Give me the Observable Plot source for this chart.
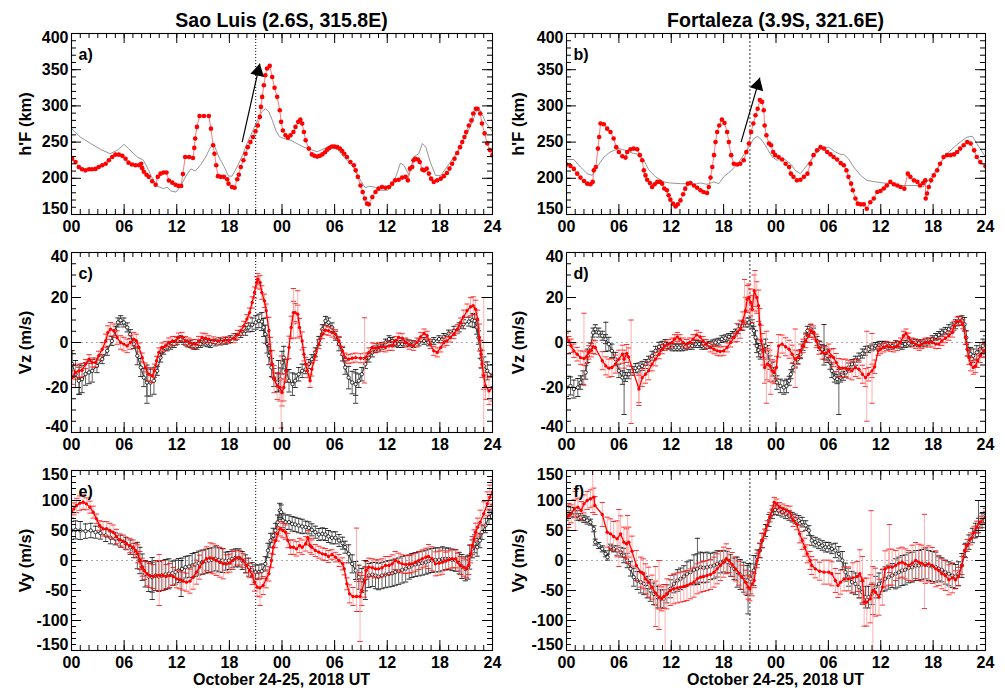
<!DOCTYPE html>
<html><head><meta charset="utf-8">
<script src="https://cdn.jsdelivr.net/npm/d3@7"></script>
<script src="https://cdn.jsdelivr.net/npm/@observablehq/plot@0.6"></script>
<style>
body{margin:0;background:#fff;}
#wrap{position:relative;width:1005px;height:691px;font-family:"Liberation Sans",Arial,Helvetica,sans-serif;font-weight:bold;color:#000;overflow:hidden}
.ttl{position:absolute;font-size:19.5px;line-height:24px;text-align:center;width:400px;white-space:nowrap}
.xl{position:absolute;font-size:16px;line-height:20px;text-align:center;width:400px;white-space:nowrap}
.pn{position:absolute}
</style></head><body><div id="wrap"></div>
<script>
// ---------- axis ticks / labels ----------
const xMajor = [0,6,12,18,24,30,36,42,48];
const xTickLabels = ["00","06","12","18","00","06","12","18","24"];
const hfMajor = [150,200,250,300,350,400];
const vzMajor = [-40,-20,0,20,40];
const vyMajor = [-150,-100,-50,0,50,100,150];
const titles = ["Sao Luis (2.6S, 315.8E)", "Fortaleza (3.9S, 321.6E)"];
const xTitle = "October 24-25, 2018 UT";
const yTitles = ["h'F (km)", "Vz (m/s)", "Vy (m/s)"];
const letters = ["a)","b)","c)","d)","e)","f)"];
const eventT = 21;

// ---------- panel a: Sao Luis h'F ----------
const aRed = [[0.08,227],[0.46,222.5],[0.84,215.6],[1.2,212.4],[1.6,211],[2.0,212.4],[2.35,212.4],[2.74,213],[3.1,215.6],[3.5,218],[3.9,220],[4.26,225],[4.64,229.5],[5.0,232.7],[5.4,232.7],[5.8,231],[6.16,227],[6.5,221.6],[6.9,219],[7.3,218],[7.7,218],[7.94,220],[8.06,214],[8.25,209],[8.55,205],[8.8,202],[9.2,196],[9.6,191],[9.84,202],[10.15,206.4],[10.5,208],[10.83,208],[11.1,197],[11.5,194],[11.86,191],[12.2,189.5],[12.5,189.5],[12.7,206],[12.96,229.5],[13.4,229.5],[13.85,228],[14.0,242],[14.1,255],[14.3,271],[14.6,286],[15.1,286],[15.66,286],[15.9,268.6],[16.15,245.6],[16.3,234],[16.5,218],[16.7,203],[17.0,202],[17.37,202],[17.75,198.6],[17.9,192.6],[18.3,188],[18.6,187],[18.9,198.6],[19.08,205],[19.3,215.6],[19.6,225],[19.84,234],[20.1,243],[20.4,250],[20.7,257],[20.98,265],[21.24,273],[21.47,284.8],[21.6,298.6],[21.74,312.4],[21.93,328.6],[22.1,342.4],[22.3,351.6],[22.6,355.3],[22.88,340],[23.15,325],[23.45,312.5],[23.75,294],[23.9,278],[24.1,266],[24.4,259.5],[24.67,256],[24.97,259.5],[25.3,264],[25.54,271],[25.85,278],[26.1,281],[26.3,275.6],[26.5,264],[26.7,252.5],[27.06,241],[27.4,233],[27.7,231],[28.0,230],[28.3,231],[28.6,233],[28.9,236],[29.15,239.6],[29.4,242],[29.7,244],[30.0,244],[30.3,243],[30.6,241],[30.86,237.8],[31.1,234],[31.4,229.5],[31.8,222.5],[32.2,218],[32.4,211],[32.65,202],[32.95,190],[33.2,181],[33.45,172],[33.7,165],[33.9,164],[34.3,174],[34.66,181],[35.0,185.7],[35.4,188],[35.8,187],[36.2,188],[36.56,192.6],[36.9,197.2],[37.3,198],[37.7,201],[38.1,202],[38.35,197.2],[38.58,213.3],[38.85,215.6],[39.0,225],[39.2,227],[39.5,226],[39.7,222.5],[40.0,212],[40.2,211],[40.5,213.4],[40.75,206.5],[41.0,199.5],[41.3,195],[41.7,197.2],[42.1,199.5],[42.45,203],[42.8,207.3],[43.1,213.4],[43.4,220],[43.67,227],[43.98,235],[44.3,243],[44.55,250],[44.8,257],[45.0,264],[45.3,273],[45.6,280],[45.8,289.4],[46.1,296],[46.3,296],[46.6,289.4],[46.8,275.6],[47.1,262],[47.4,248],[47.7,239],[48,232]];
const aQuiet = [[0,268.6],[1.0,257],[2.2,248],[3.3,240],[4.4,234],[5.2,238.6],[6.0,247],[6.5,241],[7.5,229.5],[8.2,225],[8.8,211],[9.6,190],[10.0,188],[10.5,185.7],[10.9,188],[11.3,182.6],[11.9,181],[12.4,188],[13.0,202],[13.6,213],[14.1,210],[14.7,218],[15.3,229.5],[15.85,243],[16.2,248],[16.8,229.5],[17.4,216],[17.9,203],[18.3,203],[18.9,216],[19.5,232],[20.0,248],[20.6,264],[21.2,280],[21.7,292],[22.1,296],[22.5,292],[22.9,280],[23.3,266],[23.6,259.5],[23.8,257],[24.2,255],[25.0,252.5],[25.7,248],[26.5,243],[27.25,240],[28.0,236.6],[28.8,241],[29.5,243],[30.3,240],[31.05,229.5],[31.8,220],[32.4,211],[32.95,197],[33.5,187],[33.9,189],[34.5,188],[35.2,183.4],[36.0,183.4],[36.6,190],[37.1,206.4],[37.5,221],[37.9,218],[38.5,204],[39.0,229.5],[39.6,234],[40.0,248],[40.4,243],[40.9,222.5],[41.5,204],[42.1,204],[42.8,215.6],[43.6,229.5],[44.4,245.6],[45.1,262],[45.7,278],[46.2,294],[46.6,294],[47.2,278],[48,264]];
const aArrow = [{t1:19.46,h1:250,t2:21.47,h2:358.5}];

// ---------- panel b: Fortaleza h'F ----------
const bRed = [[0,219],[0.46,217],[0.84,213],[1.22,206.4],[1.6,201],[2.0,196.3],[2.37,192.6],[2.75,191.7],[3.0,195],[3.13,211],[3.36,215.6],[3.6,241],[3.74,257],[3.9,275.6],[4.28,274.6],[4.66,268.6],[5.04,264],[5.4,255],[5.7,243],[6.0,236.4],[6.4,230.4],[6.76,228.6],[6.95,236.4],[7.33,240],[7.7,241],[8.1,240],[8.4,232],[8.67,225],[8.86,211],[9.05,204],[9.24,198],[9.55,193.5],[9.8,188],[10.1,191.7],[10.4,195],[10.7,195],[10.96,192.6],[11.2,186],[11.5,183.4],[11.7,176.5],[11.9,170.5],[12.2,165],[12.5,161],[12.75,164],[13.06,169.5],[13.36,178],[13.6,185.7],[13.9,192.6],[14.2,193.5],[14.6,190],[14.97,187],[15.35,183.4],[15.7,181],[16.1,179.7],[16.3,188],[16.5,201],[16.7,215.6],[16.9,232],[17.07,250],[17.26,264],[17.5,273],[17.8,281],[18.1,276.4],[18.4,264],[18.6,250],[18.86,232],[19.17,220],[19.55,219],[19.9,220],[20.3,225],[20.6,236.4],[20.9,248],[21.15,264],[21.4,275.6],[21.65,287],[21.9,296],[22.15,308],[22.4,305.5],[22.6,294],[22.7,273],[22.9,259.4],[23.2,248],[23.44,245.6],[23.67,236.4],[23.9,232],[24.3,229.5],[24.7,226],[25.1,220],[25.5,215.6],[25.7,206.4],[26.0,202],[26.4,197.2],[26.8,198],[27.2,202],[27.6,206.4],[27.95,220],[28.3,232],[28.7,238.6],[29.1,243],[29.5,241],[29.86,236.4],[30.24,233],[30.6,229.5],[31.0,226],[31.4,221],[31.77,218],[32.07,211],[32.3,202],[32.6,192.6],[32.8,183.4],[33.1,172],[33.37,165],[33.7,164],[34.06,164],[34.4,158],[34.8,167],[35.2,172],[35.6,181],[35.97,182.5],[36.35,186],[36.7,190],[37.1,195],[37.5,191.7],[37.9,190],[38.26,188],[38.7,185.7],[39.1,206.4],[39.4,202],[39.8,197.2],[40.2,195],[40.5,190],[40.85,193.5],[41.1,197.2],[41.15,172],[41.3,179],[41.5,188],[41.77,197.2],[42.08,204],[42.46,211],[42.8,220],[43.2,229.5],[43.6,232],[44.0,232],[44.4,233],[44.75,236.4],[45.1,241],[45.5,245.6],[45.9,250],[46.3,248],[46.7,238.6],[47.0,229.5],[47.4,222.5],[48,216.6]];
const bQuiet = [[0,225.8],[0.84,226],[1.6,215.6],[2.37,206.4],[2.94,204],[3.5,215.6],[4.3,229.5],[5.0,236.4],[6.0,241],[6.76,238.6],[7.5,235],[8.3,233],[8.86,225],[9.4,212],[10.2,202],[11.15,195],[11.9,193.5],[13.06,192.6],[13.8,192.6],[14.6,191.7],[15.35,193.5],[16.1,191.7],[16.9,195],[17.45,192.6],[18.0,202],[18.8,210],[19.55,219],[20.3,232],[20.9,243],[21.46,255],[21.9,258],[22.4,252.5],[23.0,241],[23.56,229.5],[24.1,225],[24.9,227],[25.66,220],[26.2,211],[26.8,206.4],[27.4,215.6],[28.1,227],[28.7,236.4],[29.3,241],[30.05,243],[30.8,236.4],[31.4,233],[31.77,233],[32.3,227],[32.9,215.6],[33.7,204],[34.4,197.2],[35.4,195],[36.35,193.5],[37.3,192.6],[38.26,190],[39.2,190],[40.2,190],[40.85,188],[41.3,195],[42.1,206.4],[42.8,220],[43.6,234],[44.4,243],[45.1,250],[45.9,257],[46.5,258],[47.0,248],[48,229.5]];
const bArrow = [{t1:20.0,h1:250,t2:22.15,h2:339}];

// ---------- panel c: Sao Luis Vz ----------
const cBlack = [[0.08,-9.6],[0.46,-14],[0.84,-17],[1.2,-16.3],[1.6,-14],[2.0,-13.3],[2.36,-12.6],[2.9,-10.4],[3.5,-7.4],[4.07,-3.7],[4.6,0.7],[5.0,5.2],[5.3,8.9],[5.6,9.9],[5.97,8.9],[6.35,6.7],[6.7,3.7],[7.1,-0.7],[7.5,-5.9],[7.9,-11.1],[8.25,-15.6],[8.6,-17.8],[9.0,-17.8],[9.4,-17],[9.77,-12.6],[10.15,-6.7],[10.5,-3.7],[10.9,-2.2],[11.3,-1.5],[11.7,-0.7],[12.05,0.7],[12.4,1.5],[12.8,0.7],[13.2,-0.4],[13.6,-0.7],[13.95,-1.5],[14.3,-1.5],[14.7,-0.7],[15.1,0],[15.5,-0.4],[15.85,-0.7],[16.4,0],[17.0,0.4],[17.56,0.7],[18.1,1.5],[18.7,2.5],[19.3,3.7],[19.84,5.2],[20.2,6.7],[20.6,7.9],[21.0,8.9],[21.36,9.6],[21.7,9.3],[21.9,6.7],[22.1,3.7],[22.3,-0.7],[22.5,-5.9],[22.8,-11.1],[23.07,-15.6],[23.45,-17.8],[23.8,-16.3],[24.0,-8.9],[24.2,-6.7],[24.5,-12.6],[24.8,-17],[25.2,-18.5],[25.5,-17],[25.9,-14.1],[26.3,-12.6],[26.7,-11.9],[27.06,-9.6],[27.4,-7.4],[27.8,-4.4],[28.2,0.7],[28.6,5.9],[28.96,9.6],[29.3,8.9],[29.7,6.7],[30.1,3.0],[30.5,-0.7],[30.9,-5.2],[31.2,-11.1],[31.6,-15.6],[32.0,-17.8],[32.4,-18.5],[32.76,-17],[33.1,-14.1],[33.5,-9.6],[33.9,-6.7],[34.3,-4.4],[34.66,-3.0],[35.0,-2.2],[35.4,-1.5],[35.8,0],[36.2,1.5],[36.56,0.7],[36.9,-0.4],[37.3,-0.7],[37.7,-0.7],[38.1,0],[38.5,-0.4],[39.0,-0.7],[39.6,0],[40.2,0.7],[40.7,0],[41.3,0.7],[41.9,1.5],[42.45,2.5],[43.0,4.0],[43.6,5.2],[44.2,6.7],[44.7,8.1],[45.3,9.3],[45.7,9.9],[45.96,9.6],[46.2,6.7],[46.4,2.2],[46.6,-3.0],[46.75,-7.4],[47.0,-10.4],[47.4,-12.6],[48,-14.8]];
const cBlackErr = [6,6,5,3,2,2,2,2,4,6, 2,1.5,1.5,1.5,1.5,1.5,1.5,1.5,1.5,1.5, 2,3,4,4,5,5,3,2,2,2, 2,3,5,3,2,1.5,1.5,1.5,1.5,1.5, 1.5,1.5,1.5,1.5,2,2,3,4,5];
const cBlackSpikes = [[0.9,-23,-10],[8.6,-27,-10],[23.6,-22,-8],[32.4,-27,-12]];
const cRed = [[0.08,-15.6],[0.46,-13.3],[0.84,-12.6],[1.2,-12.3],[1.6,-9.6],[2.0,-7.4],[2.36,-8.9],[2.74,-8.9],[3.1,-5.9],[3.5,-3.0],[3.9,0.7],[4.14,4.4],[4.45,5.9],[4.83,5.2],[5.2,2.2],[5.6,0],[5.97,-0.7],[6.35,-1.5],[6.7,0],[7.1,1.5],[7.4,0.7],[7.7,-2.2],[8.06,-6.7],[8.4,-11.1],[8.8,-14.1],[9.2,-14.8],[9.46,-12.6],[9.7,-8.1],[9.96,-4.4],[10.3,-2.2],[10.7,-1.5],[11.1,0],[11.5,0.7],[11.86,0.7],[12.2,2.2],[12.6,2.5],[13.0,0.7],[13.4,0],[13.76,-0.7],[14.1,-0.7],[14.5,0.7],[14.9,2.2],[15.3,1.9],[15.66,1.5],[16.2,1.0],[16.8,0.7],[17.4,1.0],[17.9,1.0],[18.5,1.9],[18.9,3.4],[19.3,5.2],[19.65,7.4],[20.0,10.4],[20.3,13.3],[20.6,17.8],[20.87,22.2],[21.1,26.7],[21.25,28.1],[21.5,26.7],[21.7,22.2],[22.0,18.5],[22.2,14.1],[22.5,5.2],[22.7,-3.7],[22.9,-9.6],[23.1,-16.3],[23.45,-19.3],[23.75,-20],[24.0,-22.2],[24.2,-20],[24.5,-12.6],[24.8,-2.2],[25.05,6.7],[25.3,13.3],[25.5,13.3],[25.8,12.6],[26.0,6.7],[26.3,0.7],[26.5,-5.2],[26.7,-9.6],[26.9,-12.6],[27.2,-17],[27.4,-11.9],[27.8,-5.9],[28.2,-0.7],[28.6,3.7],[28.96,5.5],[29.3,5.2],[29.7,4.4],[30.1,3.7],[30.5,0.7],[30.9,-3.7],[31.2,-6.7],[31.6,-7.4],[32.0,-7.0],[32.4,-6.7],[32.95,-7.0],[33.5,-6.7],[33.9,-4.4],[34.3,-2.2],[34.66,-2.5],[35.0,-2.2],[35.4,-1.9],[35.8,-2.2],[36.2,-1.5],[36.56,-1.5],[36.9,0.7],[37.3,2.2],[37.7,1.9],[38.1,0],[38.5,-1.0],[39.0,-1.5],[39.4,0],[39.8,2.5],[40.2,4.0],[40.55,3.0],[40.9,-0.7],[41.3,-3.7],[41.7,-4.4],[42.1,-2.2],[42.45,0],[42.8,0.7],[43.2,2.2],[43.6,3.7],[44.0,5.9],[44.35,8.9],[44.7,11.4],[45.1,14.1],[45.5,15.9],[45.8,16.3],[46.07,14.8],[46.3,10.4],[46.5,2.2],[46.7,-5.2],[46.8,-9.6],[47.0,-14.8],[47.2,-19.3],[47.6,-21.5],[48,-20]];
const cRedErr = [3,3,2,2,3,3,3,3,2,3, 2,2,2,2,2,2,1.5,1.5,1.5,2, 2,2.5,3,6,6,5,4,3,2,2, 2,2,2,2,2,2,2,2,2,2, 2,2,2,2,2,3,4,6,6];
const cRedSpikes = [[23.9,-38,-6],[25.3,2,24],[25.8,2,23],[33.4,-18,11],[47.0,-42,20]];

// ---------- panel d: Fortaleza Vz ----------
const dBlack = [[0,-20],[0.46,-19.3],[0.84,-20.7],[1.3,-20],[1.6,-17.8],[1.9,-15.6],[2.2,-13.3],[2.44,-5.9],[2.75,-2.2],[3.05,4.4],[3.3,5.9],[3.7,4.4],[4.1,3.0],[4.47,1.5],[4.85,-0.7],[5.2,-3.7],[5.6,-7.4],[6.0,-12.6],[6.4,-15.6],[6.76,-15.3],[7.14,-14.1],[7.5,-12.6],[7.9,-11.4],[8.3,-11.1],[8.67,-10.4],[9.05,-9.6],[9.4,-8.1],[9.8,-5.9],[10.2,-3.7],[10.6,-1.9],[10.96,-1.5],[11.3,-0.7],[11.7,-1.5],[12.1,-2.2],[12.5,-2.2],[12.87,-2.2],[13.25,-2.2],[13.6,-1.9],[14.0,-1.5],[14.4,-1.5],[14.8,-0.7],[15.2,-0.7],[15.5,-1.5],[15.9,-1.5],[16.3,-1.0],[16.7,-0.4],[17.07,0],[17.45,0.4],[17.8,1.5],[18.2,1.9],[18.6,2.5],[19.0,3.4],[19.36,4.4],[19.7,5.9],[20.1,7.4],[20.5,8.9],[20.9,8.9],[21.27,8.1],[21.46,5.2],[21.65,2.2],[21.8,-1.5],[22.0,-3.4],[22.2,-4.4],[22.5,-3.7],[22.8,-1.5],[23.0,-4.4],[23.3,-8.9],[23.56,-11.9],[23.8,-14.1],[24.1,-17.8],[24.5,-19.3],[24.9,-20],[25.2,-19.3],[25.5,-17],[25.7,-14.1],[25.96,-11.1],[26.2,-8.9],[26.5,-7.4],[26.8,-5.2],[27.1,-1.5],[27.4,2.2],[27.6,5.2],[27.95,5.9],[28.3,4.4],[28.7,0.7],[29.0,-1.5],[29.3,-3.0],[29.55,-4.4],[29.86,-5.9],[30.2,-8.9],[30.4,-12.6],[30.7,-15.6],[31.0,-16.3],[31.4,-15.6],[31.7,-14.8],[32.0,-13.3],[32.3,-11.1],[32.7,-9.6],[33.1,-8.1],[33.5,-6.7],[33.9,-4.9],[34.25,-3.7],[34.6,-3.0],[35.0,-2.2],[35.4,-1.5],[35.8,-1.0],[36.2,-1.0],[36.5,-1.0],[36.9,-1.5],[37.3,-1.5],[37.7,-0.7],[38.07,-1.0],[38.45,-1.5],[38.8,-0.7],[39.2,-0.4],[39.6,0],[40.0,0],[40.36,-0.4],[40.7,-0.4],[41.1,0],[41.5,0.4],[41.9,1.5],[42.3,2.5],[42.65,3.4],[43.0,4.4],[43.4,5.2],[43.8,5.9],[44.2,6.7],[44.56,8.1],[44.9,9.6],[45.3,9.9],[45.6,8.1],[45.8,2.2],[46.0,-3.0],[46.3,-5.2],[46.6,-5.9],[47.0,-4.4],[47.35,-3.0],[47.7,-1.5],[48,0]];
const dBlackErr = [4,4,3,2,2,3,3,2,2,2, 2,2,1.5,1.5,1.5,1.5,1.5,1.5,1.5,1.5, 2,2,3,3,3,3,2,2,2,2, 3,2,2,2,2,1.5,1.5,1.5,1.5,1.5, 1.5,1.5,1.5,1.5,2,2,3,3,3];
const dBlackSpikes = [[4.5,-4,9],[6.6,-32,-5],[29.5,-10,8],[31.2,-32,-12]];
const dRed = [[0,2.2],[0.27,0.7],[0.53,-1.5],[0.84,-3.7],[1.22,-5.2],[1.6,-6.7],[2.0,-7.1],[2.3,-6.4],[2.56,-4.4],[2.83,-3.4],[3.05,-1.9],[3.3,-2.2],[4.1,-8.1],[4.5,-10.4],[4.85,-11.4],[5.2,-11.1],[5.6,-9.6],[6.0,-7.4],[6.4,-5.2],[6.6,-7.4],[6.9,-4.9],[7.1,-6.4],[8.3,-20.7],[8.67,-15.6],[9.05,-14.1],[9.4,-12.6],[9.8,-9.6],[10.2,-7.4],[10.6,-5.2],[10.96,-3.0],[11.3,-1.5],[11.7,-0.7],[12.1,0],[12.37,1.5],[12.7,2.5],[13.0,1.5],[13.36,0],[13.75,-0.7],[14.1,0],[14.5,1.5],[14.9,3.4],[15.3,2.5],[15.65,0.7],[16.0,-0.7],[16.5,-2.2],[16.9,-3.0],[17.26,-3.7],[17.6,-4.0],[18.0,-3.7],[18.4,-2.2],[18.8,0],[19.2,2.2],[19.55,4.4],[19.9,5.9],[20.2,9.6],[20.5,14.1],[20.7,19.3],[20.9,20],[21.1,17.8],[21.27,14.8],[21.5,23],[21.8,20],[22.0,16.3],[22.15,8.1],[22.3,0.7],[22.5,-3.0],[22.7,-11.1],[23.0,-9.6],[23.3,-10.4],[23.56,-12.6],[23.8,-13.3],[24.05,-11.1],[24.3,-1.5],[24.7,-0.7],[25.1,-1.9],[25.5,-3.0],[25.85,-5.2],[26.2,-7.4],[26.5,-6.7],[26.8,-3.7],[27.1,-1.5],[27.4,0.7],[27.76,3.0],[28.0,5.2],[28.3,4.4],[28.6,0.7],[28.9,-2.2],[29.3,-4.4],[29.7,-4.9],[30.05,-3.7],[30.3,-5.9],[30.6,-6.7],[30.9,-8.9],[31.2,-11.1],[31.6,-11.4],[31.96,-11.4],[32.3,-11.9],[32.7,-12.6],[33.1,-11.1],[33.5,-11.9],[33.9,-14.1],[34.25,-15.6],[34.6,-14.1],[35.0,-12.6],[35.3,-10.8],[35.7,-3.7],[35.97,-3.0],[36.35,-2.2],[36.7,-1.5],[37.1,-1.9],[37.5,-2.2],[37.9,-1.5],[38.26,0],[38.6,3.0],[38.9,4.0],[39.2,2.2],[39.6,0],[40.0,-0.7],[40.4,-1.5],[40.7,-0.7],[41.1,0],[41.5,0],[41.9,0],[42.3,-0.7],[42.65,-0.7],[43.0,0.7],[43.4,1.9],[43.8,3.0],[44.2,4.4],[44.4,7.4],[44.75,9.3],[45.1,9.6],[45.4,8.1],[45.7,2.2],[45.9,-3.0],[46.1,-6.7],[46.3,-9.6],[46.6,-11.1],[46.85,-10.4],[47.1,-8.1],[47.4,-5.9],[47.8,-3.7],[48,-3.4]];
const dRedErr = [2,3,3,3,4,4,4,4,6,4, 3,2,2,2,2,2,2,2,2,2, 4,6,7,7,5,4,4,3,3,3, 3,4,4,4,4,3,2,2,2,2, 2,2,2,2,2,2,3,3,3];
const dRedSpikes = [[2.0,-19,13],[7.4,-36,10],[8.3,-28,-14],[20.4,9,28],[21.6,14,32],[22.9,-27,5],[23.4,-23,0],[26.2,-20,6],[34.4,-35,5],[35.0,-27,4]];

// ---------- panel e: Sao Luis Vy ----------
const eBlack = [[0,50],[0.46,51],[1.0,50],[1.6,48.9],[2.2,50],[2.74,47.2],[3.3,45.6],[3.9,41.7],[4.45,37.8],[5.0,36.1],[5.6,32.2],[6.16,28.9],[6.7,22.2],[7.1,16.7],[7.5,8.3],[7.8,0],[8.06,-11.1],[8.4,-22.2],[8.8,-26.7],[9.2,-27.8],[9.6,-25],[9.96,-26.7],[10.3,-25],[10.7,-23.3],[11.1,-22.2],[11.5,-21.1],[11.86,-19.4],[12.2,-16.7],[12.6,-13.9],[13.0,-11.1],[13.4,-10],[13.76,-8.3],[14.1,-6.7],[14.5,-4.4],[14.9,-2.8],[15.3,-1.1],[15.66,0],[16.0,1.1],[16.4,2.8],[16.8,1.1],[17.2,0],[17.56,-1.1],[17.94,0],[18.3,2.8],[18.7,4.4],[19.1,4.4],[19.46,0],[19.84,-5.6],[20.2,-11.1],[20.6,-15.6],[20.98,-19.4],[21.36,-19.4],[21.7,-17.8],[22.1,-5.6],[22.4,16.7],[22.7,33.3],[23.0,41.7],[23.26,50],[23.5,63.9],[23.75,83.3],[23.9,80.6],[24.1,66.7],[24.4,63.9],[24.8,63.9],[25.16,61.1],[25.5,60],[25.9,58.3],[26.3,56.7],[26.7,55.6],[27.06,54.4],[27.4,51.1],[27.8,47.2],[28.2,43.3],[28.6,44.4],[28.96,43.3],[29.3,40],[29.7,37.8],[30.1,37.8],[30.5,33.3],[30.9,28.9],[31.2,22.2],[31.6,11.1],[32.0,-5.6],[32.4,-16.7],[32.76,-27.8],[33.1,-33.3],[33.5,-30.6],[33.9,-25],[34.3,-23.3],[34.66,-25],[35.0,-26.7],[35.4,-25],[35.8,-23.3],[36.2,-22.2],[36.56,-21.1],[36.9,-19.4],[37.3,-17.8],[37.7,-15.6],[38.1,-13.9],[38.5,-11.1],[38.8,-8.3],[39.2,-6.7],[39.6,-5.6],[40.0,-4.4],[40.4,-2.8],[40.7,-1.1],[41.1,0],[41.5,1.1],[41.9,1.1],[42.3,2.8],[42.65,2.8],[43.0,2.8],[43.4,1.1],[43.8,0],[44.2,-4.4],[44.5,-10],[44.9,-13.9],[45.2,-11.1],[45.4,5.6],[45.7,19.4],[45.96,27.8],[46.25,22.2],[46.56,33.3],[46.8,47.2],[47.2,58.3],[47.6,72.2],[48,80.6]];
const eBlackErr = [15,15,12,10,10,10,10,12,22,25, 25,25,20,18,20,20,20,20,15,15, 15,12,12,12,12,12,12,10,10,10, 10,10,15,20,20,22,22,22,22,20, 20,20,20,18,18,20,15,12,12];
const eBlackSpikes = [[9.2,-65,5],[12.5,-60,0],[33.5,-65,0]];
const eRed = [[0,80.6],[0.27,86],[0.57,91.7],[0.95,95.6],[1.33,97.2],[1.7,94.4],[2.1,88.9],[2.47,80.6],[2.85,69.4],[3.2,58.3],[3.6,52.8],[4.0,52.8],[4.37,50],[4.75,47.2],[5.13,40],[5.5,34.4],[5.9,32.2],[6.27,27.8],[6.65,25],[7.03,22.2],[7.3,16.7],[7.56,11.1],[7.8,0],[8.06,-11.1],[8.3,-16.7],[8.6,-22.2],[8.9,-25],[9.3,-26.7],[9.7,-25],[10.07,-25],[10.45,-25],[10.8,-26.7],[11.2,-25],[11.6,-26.7],[11.97,-30.6],[12.35,-32.2],[12.7,-34.4],[13.1,-36.1],[13.5,-34.4],[13.87,-27.8],[14.25,-19.4],[14.6,-11.1],[15.0,-2.8],[15.4,2.8],[15.8,4.4],[16.15,2.8],[16.5,0],[16.9,-2.8],[17.3,-5.6],[17.67,-5.6],[18.05,-4.4],[18.4,0],[18.8,4.4],[19.2,4.4],[19.57,0],[19.95,-8.3],[20.3,-16.7],[20.6,-25],[20.87,-36.1],[21.17,-44.4],[21.47,-45.6],[21.85,-41.7],[22.2,-30.6],[22.5,-22.2],[22.8,0],[23.0,22.2],[23.26,33.3],[23.5,44.4],[23.8,52.8],[24.1,50],[24.4,47.2],[24.67,33.3],[24.97,22.2],[25.3,22.2],[25.65,19.4],[26.0,25],[26.3,22.2],[26.7,27.8],[26.95,37.8],[27.2,25],[27.4,22.2],[27.8,16.7],[28.2,13.9],[28.6,11.1],[28.96,10],[29.3,6.7],[29.7,10],[30.1,5.6],[30.5,0],[30.9,-5.6],[31.1,-13.9],[31.4,-38.9],[31.7,-55.6],[32.1,-60],[32.5,-60],[32.9,-60],[33.1,-50],[33.4,-36.1],[33.6,-16.7],[33.9,-11.1],[34.3,-12.2],[34.66,-13.9],[35.0,-13.9],[35.4,-12.2],[35.8,-8.3],[36.2,-8.3],[36.56,-5.6],[36.9,0],[37.3,-2.8],[37.7,-5.6],[38.1,-6.7],[38.5,-5.6],[38.8,-5.6],[39.2,-2.8],[39.6,0],[40.0,2.8],[40.4,5.6],[40.7,6.7],[41.1,2.8],[41.5,-5.6],[41.9,-4.4],[42.3,-2.8],[42.65,-1.1],[43.0,1.1],[43.4,2.8],[43.8,2.8],[44.05,-2.8],[44.35,-8.3],[44.7,-11.1],[45.0,-13.9],[45.3,-8.3],[45.5,11.1],[45.7,25],[45.9,36.1],[46.07,47.2],[46.3,55.6],[46.6,63.9],[47.0,77.8],[47.4,94.4],[47.7,105.6],[48,113.9]];
const eRedErr = [10,12,10,8,12,12,10,12,15,20, 25,20,15,15,20,20,25,25,15,12, 12,15,15,12,12,12,12,12,10,10, 8,10,15,25,15,15,15,15,15,15, 15,20,20,15,15,15,15,20,20];
const eRedSpikes = [[10.0,-75,10],[21.5,-75,-20],[32.5,-60,54],[32.9,-135,-20]];

// ---------- panel f: Fortaleza Vy ----------
const fBlack = [[0,75],[0.46,80.6],[0.84,80.6],[1.22,75],[1.6,72.2],[2.0,69.4],[2.37,66.7],[2.75,63.9],[3.13,52.8],[3.3,30.6],[3.7,25],[4.1,19.4],[4.47,11.1],[4.7,5.6],[5.04,22.2],[5.4,19.4],[5.8,16.7],[6.2,13.9],[6.57,8.3],[6.95,0],[7.33,-13.9],[7.7,-27.8],[8.1,-33.3],[8.5,-36.1],[8.86,-38.9],[9.24,-44.4],[9.6,-50],[10.0,-55.6],[10.4,-61.1],[10.77,-63.9],[11.15,-63.9],[11.5,-55.6],[11.9,-47.2],[12.3,-38.9],[12.7,-33.3],[13.06,-30.6],[13.44,-26.7],[13.8,-22.2],[14.2,-19.4],[14.6,-15.6],[14.97,-13.9],[15.35,-11.1],[15.7,-12.2],[16.1,-11.1],[16.5,-10],[16.9,-8.3],[17.26,-5.6],[17.64,-2.8],[18.0,-1.1],[18.4,-2.8],[18.8,-8.3],[19.2,-13.9],[19.55,-19.4],[19.9,-23.3],[20.3,-27.8],[20.7,-33.3],[21.1,-30.6],[21.46,-16.7],[21.84,5.6],[22.15,16.7],[22.4,33.3],[22.8,50],[23.2,66.7],[23.56,77.8],[23.9,84.4],[24.3,83.3],[24.7,80.6],[25.1,77.8],[25.5,75],[25.85,72.2],[26.2,69.4],[26.6,66.7],[27.0,63.9],[27.4,58.3],[27.76,50],[28.1,33.3],[28.5,30.6],[28.9,27.8],[29.3,25],[29.67,22.2],[30.05,22.2],[30.4,19.4],[30.8,16.7],[31.2,11.1],[31.6,0],[31.96,-19.4],[32.3,-27.8],[32.7,-36.1],[33.1,-38.9],[33.5,-44.4],[33.87,-52.8],[34.25,-61.1],[34.6,-61.1],[35.0,-55.6],[35.4,-44.4],[35.8,-38.9],[36.2,-33.3],[36.5,-30.6],[36.9,-27.8],[37.3,-25],[37.7,-22.2],[38.07,-19.4],[38.45,-16.7],[38.8,-15.6],[39.2,-12.2],[39.6,-11.1],[40.0,-8.3],[40.36,-8.3],[40.7,-6.7],[41.1,-5.6],[41.5,-8.3],[41.9,-10],[42.3,-11.1],[42.65,-13.9],[43.0,-15.6],[43.4,-19.4],[43.8,-22.2],[44.2,-25],[44.56,-26.7],[44.9,-22.2],[45.3,-8.3],[45.7,16.7],[46.1,30.6],[46.5,41.7],[46.85,50],[47.2,58.3],[47.6,66.7],[48,75]];
const fBlackErr = [8,8,6,5,5,5,8,12,15,18, 18,15,15,18,20,25,25,22,18,18, 25,25,12,10,8,8,8,8,8,8, 8,12,15,18,18,18,18,20,25,25, 25,25,25,20,20,20,12,12,12];
const fBlackSpikes = [[20.8,-89,-5],[15.0,-40,37],[47.2,40,100]];
const fRed = [[0,72.2],[0.27,75],[0.53,77.8],[0.9,86.1],[1.3,88.9],[1.68,83.3],[2.0,94.4],[2.37,100],[2.75,102.8],[3.13,105.6],[3.25,91.7],[4.1,76.7],[4.66,47.2],[5.04,44.4],[5.4,40],[5.8,36.1],[6.2,44.4],[6.57,30.6],[6.87,27.8],[7.14,30.6],[7.5,15.6],[8.0,-8.3],[8.5,-19.4],[8.8,-22.2],[9.05,-30.6],[9.4,-36.1],[9.8,-44.4],[10.2,-54.4],[10.6,-61.1],[10.9,-63.9],[11.15,-60],[11.5,-55.6],[11.9,-50],[12.3,-47.2],[12.7,-45.6],[13.06,-44.4],[13.44,-43.3],[13.8,-41.7],[14.2,-38.9],[14.6,-36.1],[14.97,-30.6],[15.35,-27.8],[15.7,-26.7],[16.1,-25],[16.5,-23.3],[16.9,-19.4],[17.26,-13.9],[17.64,-8.3],[18.0,-2.8],[18.3,2.8],[18.6,0],[18.98,-6.7],[19.36,-13.9],[19.74,-21.1],[20.1,-27.8],[20.5,-36.1],[20.8,-44.4],[21.0,-47.2],[21.27,-38.9],[21.5,-33.3],[21.84,0],[22.15,16.7],[22.4,33.3],[22.7,44.4],[23.0,58.3],[23.3,72.2],[23.56,83.3],[23.8,97.2],[24.1,94.4],[24.4,88.9],[24.8,86.1],[25.2,83.3],[25.6,80.6],[25.96,66.7],[26.35,61.1],[26.7,44.4],[27.0,33.3],[27.3,22.2],[27.57,11.1],[27.9,0],[28.1,-8.3],[28.5,-13.9],[29.0,-17.8],[29.5,-19.4],[30.05,-19.4],[30.4,-22.2],[30.8,-33.3],[31.1,-41.7],[31.4,-36.1],[31.8,-30.6],[32.3,-30.6],[32.8,-28.9],[33.3,-26.7],[33.6,-22.2],[33.9,-33.3],[34.1,-69.4],[34.4,-69.4],[34.8,-63.9],[35.1,-50],[35.4,-52.8],[35.8,-61.1],[36.2,-44.4],[36.5,-13.9],[36.9,-11.1],[37.3,-11.1],[37.7,-8.3],[38.07,-4.4],[38.45,-2.8],[38.8,-5.6],[39.2,-8.3],[39.6,-4.4],[40.0,0],[40.36,-2.8],[40.7,-4.4],[41.1,-8.3],[41.5,-5.6],[41.9,-8.3],[42.3,-13.9],[42.65,-16.7],[43.0,-22.2],[43.4,-25],[43.8,-32.2],[44.2,-28.9],[44.56,-32.2],[44.9,-26.7],[45.3,-8.3],[45.6,16.7],[45.9,25],[46.3,36.1],[46.7,47.2],[47.0,55.6],[47.4,63.9],[48,72.2]];
const fRedErr = [20,15,15,15,20,25,30,25,25,25, 20,20,25,25,25,25,25,25,25,20, 20,20,12,8,8,8,10,15,15,15, 20,20,20,25,40,40,30,30,25,25, 30,30,30,25,25,15,10,10,10];
const fRedSpikes = [[1.0,50,115],[3.0,80,150],[6.0,-10,85],[7.0,-5,75],[10.2,-110,-10],[10.6,-115,0],[11.3,-150,-40],[34.9,-40,83],[35.1,-150,-40],[37.0,-20,60],[41.0,-80,77]];

// ---------- helpers ----------
const FONT = '"Liberation Sans", Arial, Helvetica, sans-serif';
const RED = "#ff0000", RED_ERR = "#ff9a9a", BLK_ERR = "#3a3a3a";
const toRows = (pairs) => pairs.map(([t, v]) => ({t, v}));
function errRows(pairs, errH) {
  return pairs.map(([t, v]) => {
    const e = errH[Math.max(0, Math.min(errH.length - 1, Math.round(t)))];
    return {t, v, lo: v - e, hi: v + e};
  });
}
const spikeRows = (sp) => sp.map(([t, lo, hi]) => ({t, lo, hi}));
function errorMarks(rows, color, capColor) {
  const cap = 0.3;
  return [
    Plot.ruleX(rows, {x: "t", y1: "lo", y2: "hi", stroke: color, strokeWidth: 0.8, clip: true}),
    Plot.link(rows, {x1: d => d.t - cap, x2: d => d.t + cap, y1: "hi", y2: "hi", stroke: capColor, strokeWidth: 0.8, clip: true}),
    Plot.link(rows, {x1: d => d.t - cap, x2: d => d.t + cap, y1: "lo", y2: "lo", stroke: capColor, strokeWidth: 0.8, clip: true})
  ];
}
function velMarks(black, blackErr, blackSp, red, redErr, redSp) {
  const bRows = errRows(black, blackErr), rRows = errRows(red, redErr);
  return [
    ...errorMarks(bRows, BLK_ERR, "#000"),
    ...errorMarks(spikeRows(blackSp), BLK_ERR, "#000"),
    Plot.line(bRows, {x: "t", y: "v", stroke: "#444", strokeWidth: 1.2, clip: true}),
    Plot.dot(bRows, {x: "t", y: "v", r: 1.7, stroke: "#000", strokeWidth: 0.8, fill: "#fff", clip: true}),
    ...errorMarks(rRows, RED_ERR, RED),
    ...errorMarks(spikeRows(redSp), RED_ERR, RED),
    Plot.line(rRows, {x: "t", y: "v", stroke: RED, strokeWidth: 1.3, clip: true}),
    Plot.dot(rRows, {x: "t", y: "v", r: 1.7, fill: RED, clip: true})
  ];
}
function hfMarks(red, quiet, arrow, fw, fh, yDomain) {
  const a = arrow[0];
  const dxp = (a.t2 - a.t1) * fw / 48, dyp = (a.h2 - a.h1) * fh / (yDomain[1] - yDomain[0]);
  const ang = Math.atan2(dxp, dyp);
  const r = 5.2, tip = 2 * Math.sqrt(Math.PI * r * r / (3 * Math.sqrt(3)));
  return [
    Plot.line(toRows(quiet), {x: "t", y: "v", stroke: "#7a7a7a", strokeWidth: 0.8, clip: true}),
    Plot.line(toRows(red), {x: "t", y: "v", stroke: "#ff6a6a", strokeWidth: 0.9, clip: true}),
    Plot.dot(toRows(red), {x: "t", y: "v", r: 2.3, fill: RED, clip: true}),
    Plot.link(arrow, {x1: "t1", y1: "h1", x2: "t2", y2: "h2", stroke: "#000", strokeWidth: 1.2}),
    Plot.dot(arrow, {x: "t2", y: "h2", symbol: "triangle", r, fill: "#000", rotate: ang * 180 / Math.PI,
      dx: -tip * Math.sin(ang), dy: tip * Math.cos(ang)})
  ];
}

function panel(cfg) {
  const {left, top, width, height, mL, mR, mT, mB, yDomain, yMajor, yMinorStep, yLabel, letter, labelDx, dataMarks, zero, vStyle} = cfg;
  const fw = width - mL - mR, fh = height - mT - mB;
  const xMinor = d3.range(0, 48.001, 1);
  const yMinor = d3.range(yDomain[0], yDomain[1] + 0.001, yMinorStep);
  const marks = [];
  if (zero) marks.push(Plot.ruleY([0], {stroke: "#aaa", strokeWidth: 1, strokeDasharray: "2,3"}));
  marks.push(Plot.ruleX([eventT], vStyle));
  marks.push(...(typeof dataMarks === "function" ? dataMarks(fw, fh) : dataMarks));
  marks.push(Plot.frame({stroke: "#000", strokeWidth: 1.1}));
  // inward ticks on all four sides
  marks.push(Plot.tickX(xMinor, {x: d => d, insetTop: fh - 5, stroke: "#000"}));
  marks.push(Plot.tickX(xMinor, {x: d => d, insetBottom: fh - 5, stroke: "#000"}));
  marks.push(Plot.tickX(xMajor, {x: d => d, insetTop: fh - 10, stroke: "#000"}));
  marks.push(Plot.tickX(xMajor, {x: d => d, insetBottom: fh - 10, stroke: "#000"}));
  marks.push(Plot.tickY(yMinor, {y: d => d, insetRight: fw - 5, stroke: "#000"}));
  marks.push(Plot.tickY(yMinor, {y: d => d, insetLeft: fw - 5, stroke: "#000"}));
  marks.push(Plot.tickY(yMajor, {y: d => d, insetRight: fw - 10, stroke: "#000"}));
  marks.push(Plot.tickY(yMajor, {y: d => d, insetLeft: fw - 10, stroke: "#000"}));
  marks.push(Plot.axisX(xMajor, {tickSize: 0, tickPadding: 6, label: null, fontSize: 16, fontWeight: "bold",
    tickFormat: d => xTickLabels[xMajor.indexOf(d)]}));
  // y tick labels: end labels nudged inside the frame as in the reference
  const yLab = (vals, dy) => Plot.text(vals, {y: d => d, text: d => String(d), frameAnchor: "left", dx: -3, dy,
    textAnchor: "end", fontSize: 16, fontWeight: "bold"});
  marks.push(yLab(yMajor.slice(1, -1), 0));
  marks.push(yLab([yMajor[0]], -6));
  marks.push(yLab([yMajor[yMajor.length - 1]], 4));
  marks.push(Plot.text([yLabel], {text: d => d, frameAnchor: "left", dx: labelDx, rotate: -90, fontSize: 16.5, fontWeight: "bold", textAnchor: "middle"}));
  marks.push(Plot.text([letter], {text: d => d, frameAnchor: "top-left", dx: 7, dy: 15, textAnchor: "start", fontSize: 16, fontWeight: "bold"}));
  const svg = Plot.plot({
    width, height, marginLeft: mL, marginRight: mR, marginTop: mT, marginBottom: mB,
    x: {domain: [0, 48]}, y: {domain: yDomain, axis: null},
    style: {fontFamily: FONT, fontSize: "16px", fontWeight: "bold", background: "transparent", overflow: "visible", color: "#000"},
    marks
  });
  const div = document.createElement("div");
  div.className = "pn";
  div.style.left = left + "px"; div.style.top = top + "px";
  div.appendChild(svg);
  return div;
}

const wrap = document.getElementById("wrap");
const cols = [
  {left: 0, width: 500, mL: 71, mR: 8, labelDx: -46, vStyle: {stroke: "#000", strokeWidth: 1, strokeDasharray: "1,2"}},
  {left: 500, width: 505, mL: 66, mR: 20, labelDx: -48, vStyle: {stroke: "#888", strokeWidth: 1.8, strokeDasharray: "2,2"}}
];
const rows = [
  {top: 0, height: 245, mT: 33, mB: 31, yDomain: [150, 400], yMajor: hfMajor, yMinorStep: 10, zero: false},
  {top: 240, height: 215, mT: 12, mB: 23, yDomain: [-40, 40], yMajor: vzMajor, yMinorStep: 5, zero: true},
  {top: 455, height: 215, mT: 15, mB: 20, yDomain: [-150, 150], yMajor: vyMajor, yMinorStep: 10, zero: true}
];
const dataFor = [
  [(fw, fh) => hfMarks(aRed, aQuiet, aArrow, fw, fh, [150, 400]), (fw, fh) => hfMarks(bRed, bQuiet, bArrow, fw, fh, [150, 400])],
  [velMarks(cBlack, cBlackErr, cBlackSpikes, cRed, cRedErr, cRedSpikes), velMarks(dBlack, dBlackErr, dBlackSpikes, dRed, dRedErr, dRedSpikes)],
  [velMarks(eBlack, eBlackErr, eBlackSpikes, eRed, eRedErr, eRedSpikes), velMarks(fBlack, fBlackErr, fBlackSpikes, fRed, fRedErr, fRedSpikes)]
];
rows.forEach((r, ri) => cols.forEach((c, ci) => {
  wrap.appendChild(panel({...r, ...c, left: c.left, top: r.top, yLabel: yTitles[ri], letter: letters[ri * 2 + ci], dataMarks: dataFor[ri][ci]}));
}));
// column titles and x-axis titles
[281.5, 775.5].forEach((cx, i) => {
  const t = document.createElement("div");
  t.className = "ttl"; t.textContent = titles[i];
  t.style.left = (cx - 200) + "px"; t.style.top = "8px";
  wrap.appendChild(t);
  const x = document.createElement("div");
  x.className = "xl"; x.textContent = xTitle;
  x.style.left = (cx - 200) + "px"; x.style.top = "670px";
  wrap.appendChild(x);
});
</script></body></html>
